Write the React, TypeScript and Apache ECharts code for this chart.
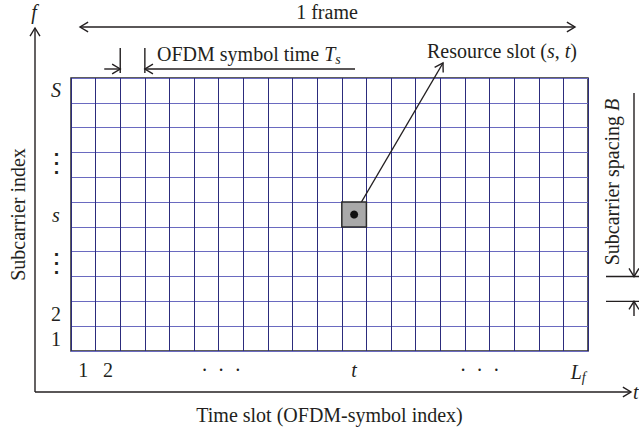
import React, { useEffect, useRef } from "react";
import * as echarts from "echarts";

// ---- data ----
const TIME_SLOTS = 21; // number of OFDM-symbol columns in one frame
const SUBCARRIERS = 11; // number of subcarrier rows shown
const X_TICK_POS = [0.5, 1.5, 6.1, 11.5, 16.6, 20.6];
const X_TICK_LABELS = ["1", "2", "·  ·  ·", "{i|t}", "·  ·  ·", "{i|L}{sub|f}"];
const Y_TICK_POS = [0.5, 1.5, 3.55, 5.5, 7.6, 10.5];
const Y_TICK_LABELS = ["1", "2", "{v|⋮}", "{i|s}", "{v|⋮}", "{i|S}"];
const RESOURCE_SLOT_T = 12; // highlighted slot column (1-based)
const RESOURCE_SLOT_S = 6; // highlighted subcarrier row (1-based)
const OFDM_SYMBOL_COL = [2, 3]; // column boundaries marked by T_s
const SPACING_ROW = [2, 3]; // row boundaries marked by B

const FONT = '"Liberation Serif", "DejaVu Serif", serif';
const INK = "#231f20";
const FS = 20;

const RICH = {
  i: { fontStyle: "italic", fontFamily: FONT, fontSize: FS, color: INK },
  sub: { fontStyle: "italic", fontFamily: FONT, fontSize: 14, color: INK, padding: [10, 0, 0, 0] },
  v: { fontFamily: '"DejaVu Serif", serif', fontSize: 27, color: INK },
};

function labelFor(pos: number[], labels: string[]) {
  return (v: number) => {
    const idx = pos.findIndex((p) => Math.abs(p - v) < 1e-6);
    return idx >= 0 ? labels[idx] : "";
  };
}

export default function App() {
  const ref = useRef<HTMLDivElement>(null);
  useEffect(() => {
    if (!ref.current) return;
    const chart = echarts.init(ref.current, null, { renderer: "svg" });
    chart.setOption({
      animation: false,
      backgroundColor: "#ffffff",
      textStyle: { fontFamily: FONT, color: INK },
      grid: {
        left: 70,
        top: 78,
        width: 518,
        height: 273,
        show: true,
        borderColor: "#2a2a2a",
        borderWidth: 1.5,
        backgroundColor: "transparent",
        containLabel: false,
      },
      xAxis: {
        type: "value",
        min: 0,
        max: TIME_SLOTS,
        interval: 1,
        axisLine: { show: false },
        axisTick: { show: false },
        splitLine: { show: true, lineStyle: { color: "#2c2c7c", width: 1 } },
        axisLabel: {
          customValues: X_TICK_POS,
          formatter: labelFor(X_TICK_POS, X_TICK_LABELS),
          margin: 9,
          fontFamily: FONT,
          fontSize: FS,
          color: INK,
          rich: RICH,
        },
        name: "Time slot (OFDM-symbol index)",
        nameLocation: "middle",
        nameGap: 54,
        nameTextStyle: { fontFamily: FONT, fontSize: FS, color: INK },
      },
      yAxis: {
        type: "value",
        min: 0,
        max: SUBCARRIERS,
        interval: 1,
        axisLine: { show: false },
        axisTick: { show: false },
        splitLine: { show: true, lineStyle: { color: "#6a6ac0", width: 1 } },
        axisLabel: {
          customValues: Y_TICK_POS,
          formatter: labelFor(Y_TICK_POS, Y_TICK_LABELS),
          margin: 15,
          align: "center",
          fontFamily: FONT,
          fontSize: FS,
          color: INK,
          rich: RICH,
        },
        name: "Subcarrier index",
        nameLocation: "middle",
        nameGap: 43,
        nameTextStyle: { fontFamily: FONT, fontSize: FS, color: INK },
      },
      series: [
        {
          type: "custom",
          coordinateSystem: "cartesian2d",
          silent: true,
          z: 10,
          data: [[RESOURCE_SLOT_T, RESOURCE_SLOT_S]],
          renderItem: (_params: any, api: any) => {
            const t = api.value(0);
            const s = api.value(1);
            const p0 = api.coord([t - 1, s]);
            const p1 = api.coord([t, s - 1]);
            const c = api.coord([t - 0.5, s - 0.5]);
            return {
              type: "group",
              children: [
                {
                  type: "rect",
                  shape: { x: p0[0], y: p0[1], width: p1[0] - p0[0], height: p1[1] - p0[1] },
                  style: { fill: "#a9a9a9", stroke: "#2a2a2a", lineWidth: 1.5 },
                },
                {
                  type: "circle",
                  shape: { cx: c[0], cy: c[1], r: 4 },
                  style: { fill: "#111111" },
                },
              ],
            };
          },
        },
      ],
    });

    const P = (u: number, v: number) => chart.convertToPixel({ gridIndex: 0 }, [u, v]) as number[];
    const bl = P(0, 0);
    const tr = P(TIME_SLOTS, SUBCARRIERS);
    const lw = 1.4;
    const line = (x1: number, y1: number, x2: number, y2: number) => ({
      type: "line",
      silent: true,
      shape: { x1, y1, x2, y2 },
      style: { stroke: INK, lineWidth: lw },
    });
    const chev = (tx: number, ty: number, dx: number, dy: number) => {
      const L = 9.5;
      const a = 0.55;
      const ang = Math.atan2(dy, dx);
      return {
        type: "polyline",
        silent: true,
        shape: {
          points: [
            [tx - L * Math.cos(ang - a), ty - L * Math.sin(ang - a)],
            [tx, ty],
            [tx - L * Math.cos(ang + a), ty - L * Math.sin(ang + a)],
          ],
        },
        style: { stroke: INK, lineWidth: lw, fill: null },
      };
    };
    const text = (x: number, y: number, t: string, align: string, extra: any = {}) => ({
      type: "text",
      silent: true,
      x,
      y,
      ...extra,
      style: {
        text: t,
        fontFamily: FONT,
        fontSize: FS,
        fill: INK,
        align,
        verticalAlign: "middle",
        rich: RICH,
      },
    });

    // outer f / t axes
    const ax = bl[0] - 36;
    const ay = bl[1] + 41;
    const topTip = 28;
    const rightTip = 631;

    // OFDM symbol time marks
    const c2 = P(OFDM_SYMBOL_COL[0], 0)[0];
    const c3 = P(OFDM_SYMBOL_COL[1], 0)[0];
    const ofdmY = 69;

    // resource slot arrow
    const cc = P(RESOURCE_SLOT_T - 0.5, RESOURCE_SLOT_S - 0.5);
    const tip = [443, 63];

    // subcarrier spacing marks
    const r2 = P(0, SPACING_ROW[0])[1];
    const r3 = P(0, SPACING_ROW[1])[1];
    const bx = 634;

    const frameL = bl[0] + 9;
    const frameR = tr[0] - 13;

    chart.setOption({
      graphic: [
        line(ax, ay, ax, topTip),
        chev(ax, topTip, 0, -1),
        line(ax, ay, rightTip, ay),
        chev(rightTip, ay, 1, 0),
        text(ax - 1, 12, "{i|f}", "center"),
        text(rightTip + 2, ay, "{i|t}", "left"),
        // 1 frame
        line(frameL, 27, frameR, 27),
        chev(frameL, 27, -1, 0),
        chev(frameR, 27, 1, 0),
        text(327, 12, "1 frame", "center"),
        // OFDM symbol time
        line(c2, 48, c2, 73),
        line(c3, 48, c3, 73),
        line(c2 - 16, ofdmY, c2, ofdmY),
        chev(c2, ofdmY, 1, 0),
        line(c3, ofdmY, 355, ofdmY),
        chev(c3, ofdmY, -1, 0),
        text(157, 54, "OFDM symbol time {i|T}{sub|s}", "left"),
        // resource slot
        line(cc[0], cc[1], tip[0], tip[1]),
        chev(tip[0], tip[1], tip[0] - cc[0], tip[1] - cc[1]),
        text(427, 51, "Resource slot ({i|s}, {i|t})", "left"),
        // subcarrier spacing
        line(bx, 93, bx, r3),
        chev(bx, r3, 0, 1),
        line(bx, 316, bx, r2),
        chev(bx, r2, 0, -1),
        line(606, r3, 639, r3),
        line(606, r2, 639, r2),
        text(612, 182, "Subcarrier spacing {i|B}", "center", { rotation: Math.PI / 2 }),
      ],
    });

    return () => chart.dispose();
  }, []);
  return (
    <div
      ref={ref}
      style={{ position: "fixed", left: 0, top: 0, width: 639, height: 431, background: "#fff" }}
    />
  );
}
